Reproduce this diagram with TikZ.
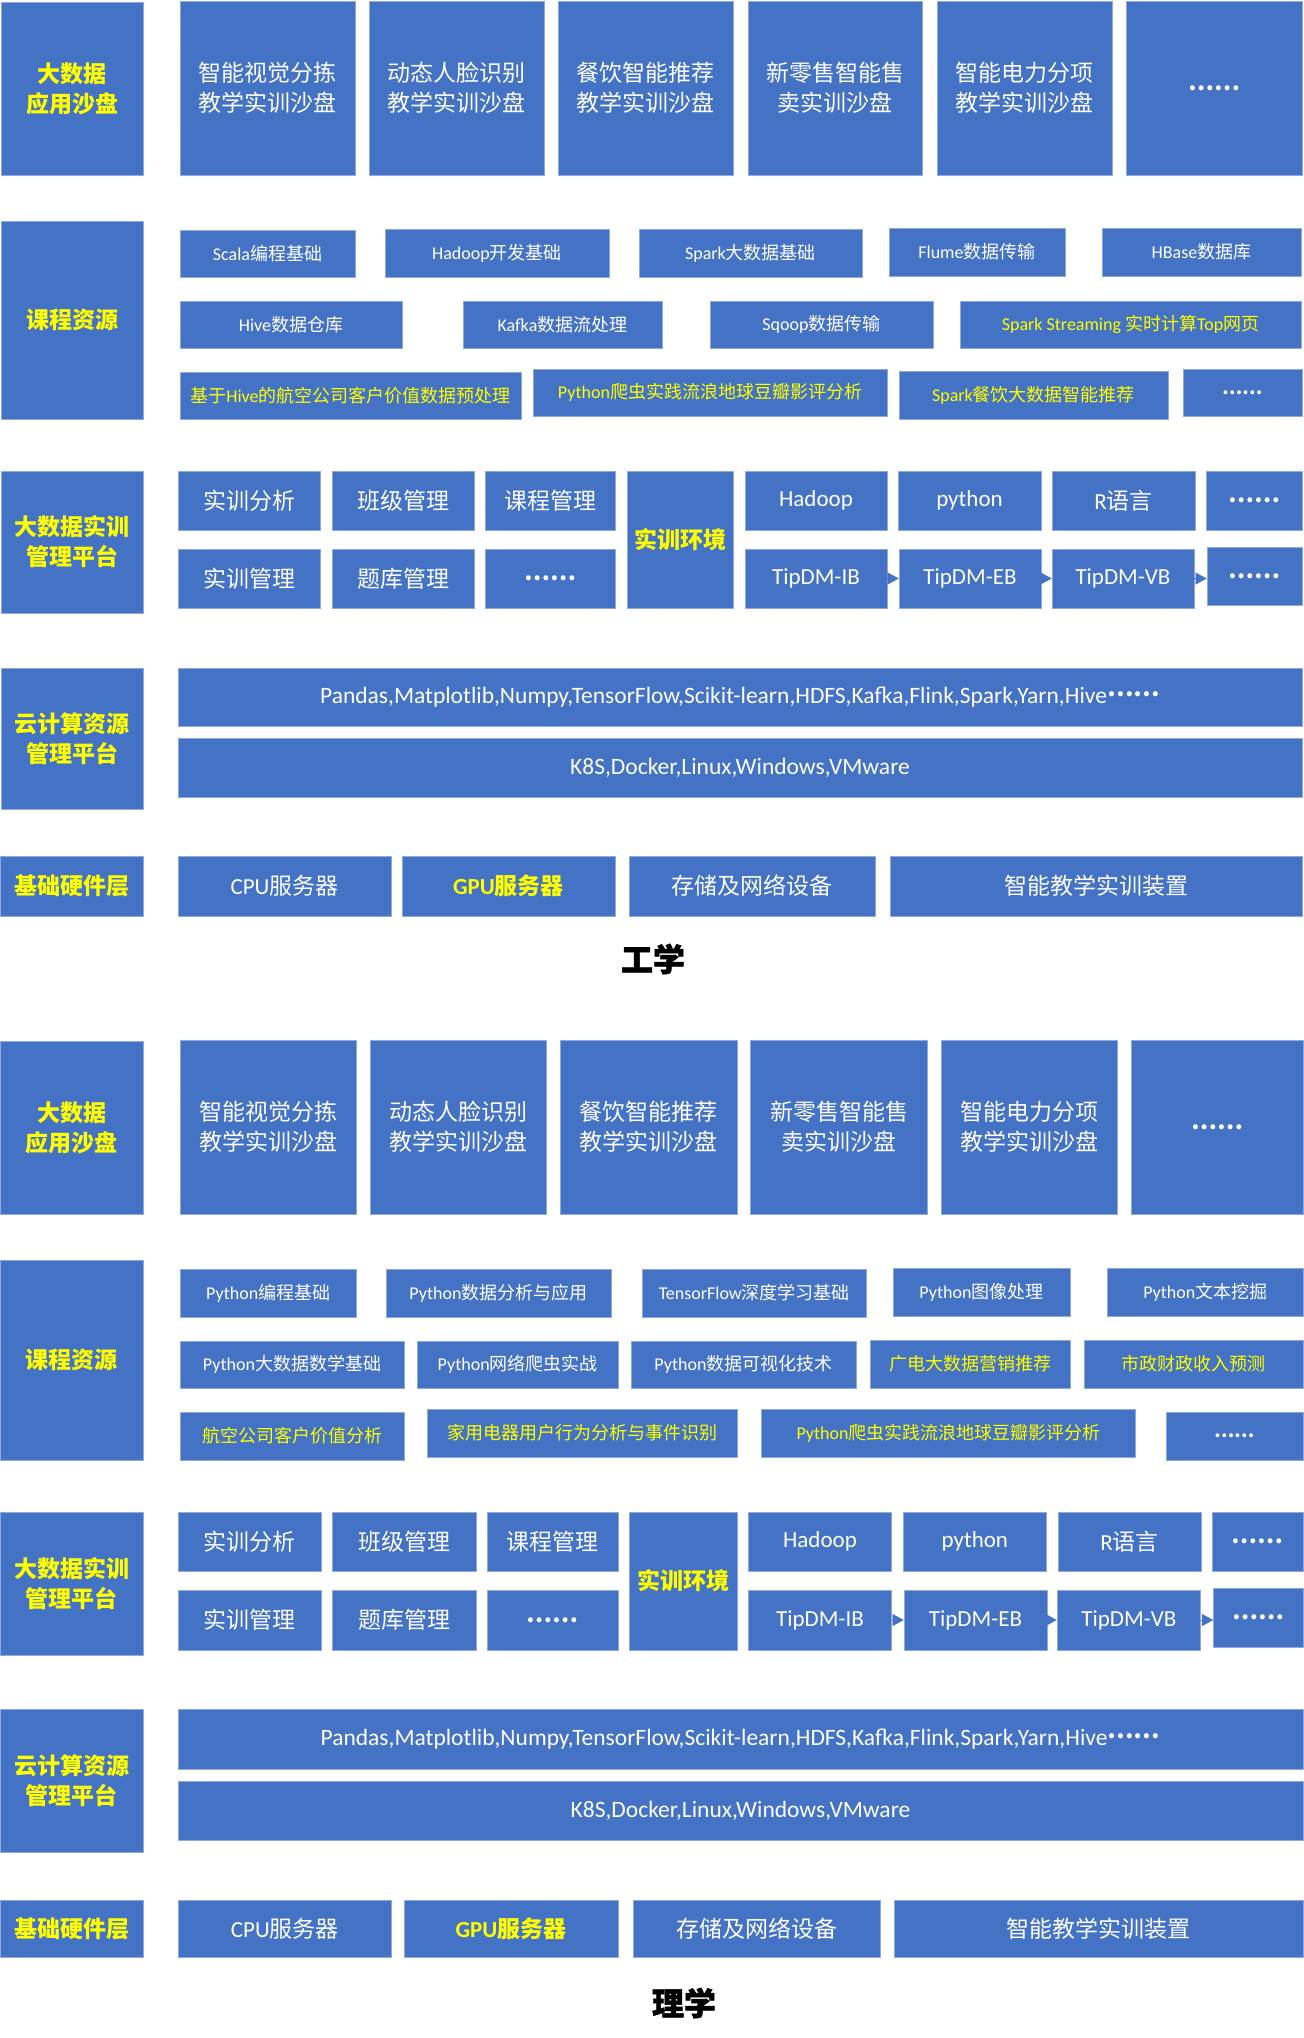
\documentclass[tikz,border=0pt]{standalone}
\usepackage{fontspec}
\setmainfont{Noto Sans CJK SC}
\newfontfamily\lat{Carlito}
\newfontfamily\heavy{Noto Sans CJK SC}[BoldFeatures={FakeBold=1.5}]
\usetikzlibrary{arrows.meta}
\definecolor{bb}{RGB}{68,114,196}
\definecolor{bd}{RGB}{143,170,220}
\definecolor{yl}{RGB}{255,255,0}
\newcommand\dd{{\bfseries ……}}
\newcommand\ddr{\raisebox{0.3em}{\bfseries ……}}
\tikzset{
  box/.style={fill=bb, draw=bd, line width=0.9pt, text=white, align=center, inner sep=0pt,
    font=\fontsize{23}{30}\selectfont},
  small/.style={font=\fontsize{18}{22}\selectfont},
  mid/.style={font=\fontsize{23.5}{28}\selectfont},
  hl/.style={text=yl},
  lbl/.style={text=yl, font=\bfseries\fontsize{23}{30}\selectfont},
  tri/.style={draw=bb, line width=0.1pt, -{Triangle[length=11pt,width=12pt,fill=bb]}},
  title/.style={text=black, font=\heavy\bfseries\fontsize{32}{36}\selectfont}
}
\newcommand\bx[7][]{%
  \pgfmathsetmacro\cx{(#3+#5)/2}%
  \pgfmathsetmacro\cy{(#4+#6)/2}%
  \pgfmathsetmacro\ww{#5-#3}%
  \pgfmathsetmacro\hh{#6-#4}%
  \node[box,#1,minimum width=\ww pt,minimum height=\hh pt] (#2) at (\cx,\cy) {#7};}
\begin{document}
\begin{tikzpicture}[x=1pt,y=-1pt]
\fill[white] (0,0) rectangle (1304,2038);
\useasboundingbox (0,0) rectangle (1304,2038);

% ================= 工学 =================
% Row A
\bx[lbl]{gA}{1}{2}{143}{175}{大数据\\应用沙盘}
\bx{ga1}{180}{1}{355}{175}{智能视觉分拣\\教学实训沙盘}
\bx{ga2}{369}{1}{544}{175}{动态人脸识别\\教学实训沙盘}
\bx{ga3}{558}{1}{733}{175}{餐饮智能推荐\\教学实训沙盘}
\bx{ga4}{748}{1}{922}{175}{新零售智能售\\卖实训沙盘}
\bx{ga5}{937}{1}{1112}{175}{智能电力分项\\教学实训沙盘}
\bx{ga6}{1126}{1}{1302}{175}{\dd}
% Row B
\bx[lbl]{gB}{1}{221}{143}{419}{课程资源}
\bx[small]{gb1}{180}{230}{355}{277}{{\lat Scala}编程基础}
\bx[small]{gb2}{385}{229}{609}{277}{{\lat Hadoop}开发基础}
\bx[small]{gb3}{639}{229}{862}{277}{{\lat Spark}大数据基础}
\bx[small]{gb4}{889}{228}{1065}{276}{{\lat Flume}数据传输}
\bx[small]{gb5}{1102}{228}{1301}{276}{{\lat HBase}数据库}
\bx[small]{gb6}{180}{301}{402}{348}{{\lat Hive}数据仓库}
\bx[small]{gb7}{463}{301}{662}{348}{{\lat Kafka}数据流处理}
\bx[small]{gb8}{710}{301}{933}{348}{{\lat Sqoop}数据传输}
\bx[small,hl]{gb9}{960}{301}{1301}{348}{{\lat Spark Streaming }实时计算{\lat Top}网页}
\bx[small,hl]{gb10}{180}{372}{521}{419}{基于{\lat Hive}的航空公司客户价值数据预处理}
\bx[small,hl]{gb11}{533}{369}{887}{416}{{\lat Python}爬虫实践流浪地球豆瓣影评分析}
\bx[small,hl]{gb12}{899}{371}{1168}{419}{{\lat Spark}餐饮大数据智能推荐}
\bx[small]{gb13}{1183}{369}{1302}{416}{\dd}
% Row C
\bx[lbl]{gC}{1}{471}{143}{613}{大数据实训\\管理平台}
\bx{gc1}{178}{471}{320}{530}{实训分析}
\bx{gc2}{332}{471}{474}{530}{班级管理}
\bx{gc3}{485}{471}{615}{530}{课程管理}
\bx{gc4}{178}{549}{320}{608}{实训管理}
\bx{gc5}{332}{549}{474}{608}{题库管理}
\bx{gc6}{485}{549}{615}{608}{\dd}
\bx[lbl]{genv}{627}{471}{733}{608}{实训环境}
\bx{gc7}{745}{471}{887}{530}{{\lat Hadoop}}
\bx{gc8}{898}{471}{1041}{530}{{\lat python}}
\bx{gc9}{1052}{471}{1195}{530}{{\lat R}语言}
\bx{gc10}{1206}{471}{1302}{530}{\dd}
\bx{gd1}{745}{549}{887}{608}{{\lat TipDM-IB}}
\bx{gd2}{899}{549}{1041}{608}{{\lat TipDM-EB}}
\bx{gd3}{1052}{549}{1194}{608}{{\lat TipDM-VB}}
\bx{gd4}{1207}{547}{1302}{605}{\dd}
\draw[tri] (gd1.east) -- (gd1.east -| gd2.west);
\draw[tri] (gd2.east) -- (gd2.east -| gd3.west);
\draw[tri] (gd3.east) -- (gd3.east -| gd4.west);
% Row D
\bx[lbl]{gD}{1}{668}{143}{809}{云计算资源\\管理平台}
\bx[mid]{ge1}{178}{668}{1302}{726}{{\lat Pandas,Matplotlib,Numpy,TensorFlow,Scikit-learn,HDFS,Kafka,Flink,Spark,Yarn,Hive}\ddr}
\bx[mid]{ge2}{178}{738}{1302}{797}{{\lat K8S,Docker,Linux,Windows,VMware}}
% Row E
\bx[lbl]{gE}{0}{856}{143}{916}{基础硬件层}
\bx{gf1}{178}{856}{391}{916}{{\lat CPU}服务器}
\bx[lbl]{gf2}{402}{856}{615}{916}{{\lat GPU}服务器}
\bx{gf3}{629}{856}{875}{916}{存储及网络设备}
\bx{gf4}{890}{856}{1302}{916}{智能教学实训装置}
\node[title] (gtitle) at (653,959) {工学};

% ================= 理学 =================
% Row A
\bx[lbl]{lA}{0}{1041}{143}{1214}{大数据\\应用沙盘}
\bx{la1}{180}{1040}{356}{1214}{智能视觉分拣\\教学实训沙盘}
\bx{la2}{370}{1040}{546}{1214}{动态人脸识别\\教学实训沙盘}
\bx{la3}{560}{1040}{737}{1214}{餐饮智能推荐\\教学实训沙盘}
\bx{la4}{750.5}{1040}{927.6}{1214}{新零售智能售\\卖实训沙盘}
\bx{la5}{941.6}{1040}{1117.8}{1214}{智能电力分项\\教学实训沙盘}
\bx{la6}{1131.7}{1040}{1303}{1214}{\dd}
% Row B
\bx[lbl]{lB}{0}{1260}{143}{1460}{课程资源}
\bx[small]{lb1}{180}{1269}{356.5}{1317}{{\lat Python}编程基础}
\bx[small]{lb2}{386}{1269}{611}{1317}{{\lat Python}数据分析与应用}
\bx[small]{lb3}{642}{1269}{866.6}{1317}{{\lat TensorFlow}深度学习基础}
\bx[small]{lb4}{893}{1268}{1070}{1316}{{\lat Python}图像处理}
\bx[small]{lb5}{1107.6}{1268}{1303}{1316}{{\lat Python}文本挖掘}
\bx[small]{lb6}{180}{1341}{404}{1388}{{\lat Python}大数据数学基础}
\bx[small]{lb7}{417.5}{1341}{618}{1388}{{\lat Python}网络爬虫实战}
\bx[small]{lb8}{631}{1341}{856}{1388}{{\lat Python}数据可视化技术}
\bx[small,hl]{lb9}{870}{1340}{1070}{1388}{广电大数据营销推荐}
\bx[small,hl]{lb10}{1084.7}{1340}{1303}{1388}{市政财政收入预测}
\bx[small,hl]{lb11}{180}{1412}{404}{1460}{航空公司客户价值分析}
\bx[small,hl]{lb12}{427}{1409}{737.4}{1457}{家用电器用户行为分析与事件识别}
\bx[small,hl]{lb13}{761.6}{1409}{1135.5}{1457}{{\lat Python}爬虫实践流浪地球豆瓣影评分析}
\bx[small]{lb14}{1166}{1412}{1303}{1460}{\dd}
% Row C
\bx[lbl]{lC}{0}{1512}{143}{1655}{大数据实训\\管理平台}
\bx{lc1}{178}{1512}{321.5}{1571}{实训分析}
\bx{lc2}{332.5}{1512}{476}{1571}{班级管理}
\bx{lc3}{487}{1512}{618}{1571}{课程管理}
\bx{lc4}{178}{1590}{321.5}{1650}{实训管理}
\bx{lc5}{332.5}{1590}{476}{1650}{题库管理}
\bx{lc6}{487}{1590}{618}{1650}{\dd}
\bx[lbl]{lenv}{629}{1512}{737.4}{1650}{实训环境}
\bx{lc7}{748.4}{1512}{891.6}{1571}{{\lat Hadoop}}
\bx{lc8}{903}{1512}{1046.6}{1571}{{\lat python}}
\bx{lc9}{1058}{1512}{1201}{1571}{{\lat R}语言}
\bx{lc10}{1212.6}{1512}{1303}{1571}{\dd}
\bx{ld1}{748.4}{1590}{891.6}{1650}{{\lat TipDM-IB}}
\bx{ld2}{904}{1590}{1047}{1650}{{\lat TipDM-EB}}
\bx{ld3}{1057}{1590}{1200.8}{1650}{{\lat TipDM-VB}}
\bx{ld4}{1213.5}{1588}{1303}{1647}{\dd}
\draw[tri] (ld1.east) -- (ld1.east -| ld2.west);
\draw[tri] (ld2.east) -- (ld2.east -| ld3.west);
\draw[tri] (ld3.east) -- (ld3.east -| ld4.west);
% Row D
\bx[lbl]{lD}{0}{1709}{143}{1852}{云计算资源\\管理平台}
\bx[mid]{le1}{178}{1709}{1303}{1769}{{\lat Pandas,Matplotlib,Numpy,TensorFlow,Scikit-learn,HDFS,Kafka,Flink,Spark,Yarn,Hive}\ddr}
\bx[mid]{le2}{178}{1781}{1303}{1840}{{\lat K8S,Docker,Linux,Windows,VMware}}
% Row E
\bx[lbl]{lE}{0}{1900}{143}{1957}{基础硬件层}
\bx{lf1}{178}{1900}{391.7}{1957}{{\lat CPU}服务器}
\bx[lbl]{lf2}{404}{1900}{618}{1957}{{\lat GPU}服务器}
\bx{lf3}{633}{1900}{880}{1957}{存储及网络设备}
\bx{lf4}{894}{1900}{1303}{1957}{智能教学实训装置}
\node[title] (ltitle) at (684,2003) {理学};
\end{tikzpicture}
\end{document}
